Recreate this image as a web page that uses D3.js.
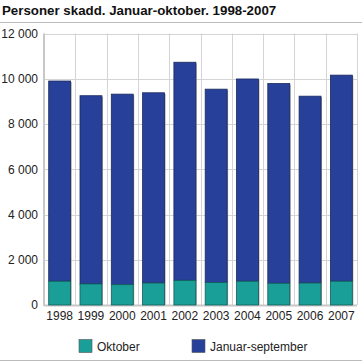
<!DOCTYPE html>
<html><head><meta charset="utf-8">
<script src="https://cdn.jsdelivr.net/npm/d3@7"></script>
<style>body{margin:0;background:#fff;}svg{display:block;font-family:"Liberation Sans",Arial,sans-serif;}</style>
</head><body><svg id="c" width="362" height="363"></svg>
<script>
const years = ["1998","1999","2000","2001","2002","2003","2004","2005","2006","2007"];
const oktober = [1050, 930, 900, 970, 1090, 990, 1050, 960, 970, 1050];
const janSep = [8850, 8320, 8420, 8410, 9640, 8550, 8940, 8830, 8260, 9110];
const yTicks = [0, 2000, 4000, 6000, 8000, 10000, 12000];
const seriesNames = ["Oktober", "Januar-september"];
const colors = ["#1a9e98", "#27409a"];

const svg = d3.select("#c");
const pLeft = 44, pRight = 357, pTop = 33.5, pBottom = 305;
const x = d3.scaleBand().domain(years).range([pLeft, pRight]).paddingInner(0.3).paddingOuter(0.15);
const y = d3.scaleLinear().domain([0, 12000]).range([pBottom, pTop]);

svg.append("text").attr("x", 2).attr("y", 15).attr("font-size", 13.3).attr("font-weight", "bold").attr("fill", "#111")
  .text("Personer skadd. Januar-oktober. 1998-2007");
svg.append("line").attr("x1", 0).attr("x2", 362).attr("y1", 22.5).attr("y2", 22.5).attr("stroke", "#bbb").attr("stroke-width", 1);

const step = (pRight - pLeft) / years.length;
const g = svg.append("g");
g.selectAll(".h").data(yTicks).join("line")
  .attr("x1", pLeft).attr("x2", pRight).attr("y1", d => Math.round(y(d)) + 0.5).attr("y2", d => Math.round(y(d)) + 0.5)
  .attr("stroke", "#d4d4d4");
g.selectAll(".v").data(d3.range(years.length + 1)).join("line")
  .attr("x1", i => Math.round(pLeft + i * step) + 0.5).attr("x2", i => Math.round(pLeft + i * step) + 0.5)
  .attr("y1", pTop).attr("y2", pBottom).attr("stroke", "#d4d4d4");
svg.append("line").attr("x1", pLeft).attr("x2", pLeft).attr("y1", pTop).attr("y2", pBottom + 1).attr("stroke", "#c8c8c8").attr("stroke-width", 2);
svg.append("line").attr("x1", pLeft).attr("x2", pRight).attr("y1", pBottom + 0.5).attr("y2", pBottom + 0.5).attr("stroke", "#c8c8c8").attr("stroke-width", 2);

const fmt = d => d3.format(",")(d).replace(/,/g, " ");
svg.append("g").selectAll("text").data(yTicks).join("text")
  .attr("x", 38).attr("y", d => y(d) + 4.3).attr("text-anchor", "end").attr("font-size", 12).attr("fill", "#222")
  .text(fmt);

const stacked = years.map((yr, i) => ({ yr, o: oktober[i], j: janSep[i] }));
const bars = svg.append("g");
stacked.forEach(d => {
  const x0 = x(d.yr), w = x.bandwidth();
  const totalTop = y(d.o + d.j);
  bars.append("rect").attr("x", x0 + 1).attr("y", totalTop + 1).attr("width", w).attr("height", pBottom - totalTop - 1).attr("fill", "#9a9a9a");
  bars.append("rect").attr("x", x0).attr("y", totalTop).attr("width", w).attr("height", y(d.o) - totalTop)
    .attr("fill", colors[1]).attr("stroke", "#1b2a5e").attr("stroke-width", 0.8);
  bars.append("rect").attr("x", x0).attr("y", y(d.o)).attr("width", w).attr("height", pBottom - y(d.o))
    .attr("fill", colors[0]).attr("stroke", "#125e5a").attr("stroke-width", 0.8);
});

svg.append("g").selectAll("text").data(years).join("text")
  .attr("x", d => x(d) + x.bandwidth() / 2).attr("y", 319.5).attr("text-anchor", "middle").attr("font-size", 12).attr("fill", "#222")
  .text(d => d);

const leg = [{ x: 79, tx: 97 }, { x: 192, tx: 210 }];
seriesNames.forEach((n, i) => {
  svg.append("rect").attr("x", leg[i].x).attr("y", 339.5).attr("width", 13).attr("height", 13)
    .attr("fill", colors[i]).attr("stroke", "#555").attr("stroke-width", 0.6);
  svg.append("text").attr("x", leg[i].tx).attr("y", 350.5).attr("font-size", 12).attr("fill", "#222").text(n);
});
svg.append("line").attr("x1", 0).attr("x2", 362).attr("y1", 360.5).attr("y2", 360.5).attr("stroke", "#bbb");
</script></body></html>
